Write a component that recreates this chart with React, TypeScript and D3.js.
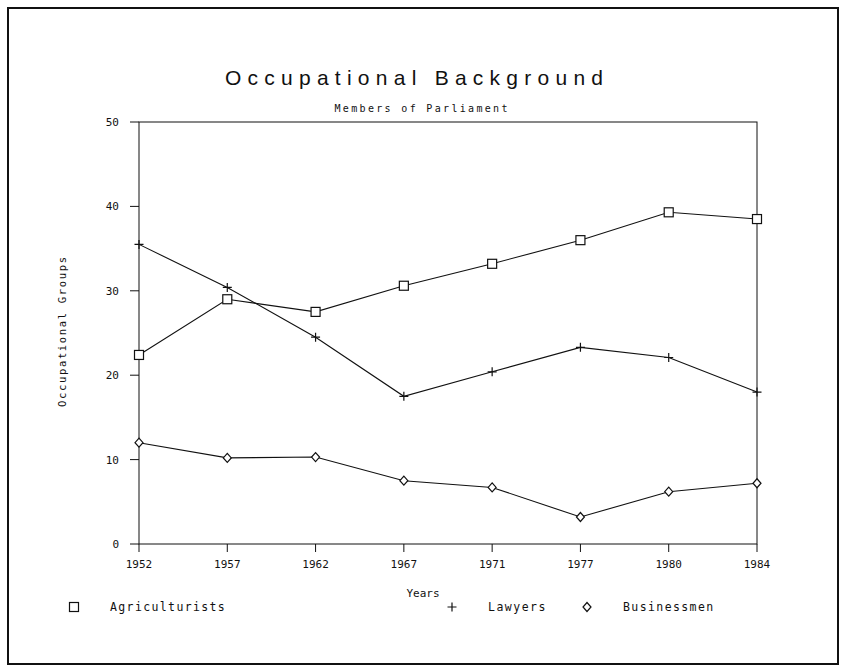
import * as d3 from "d3";

const years = ["1952", "1957", "1962", "1967", "1971", "1977", "1980", "1984"];
const agriculturists = [22.4, 29.0, 27.5, 30.6, 33.2, 36.0, 39.3, 38.5];
const lawyers = [35.5, 30.4, 24.5, 17.5, 20.4, 23.3, 22.1, 18.0];
const businessmen = [12.0, 10.2, 10.3, 7.5, 6.7, 3.2, 6.2, 7.2];
const yTicks = [0, 10, 20, 30, 40, 50];

const W = 841;
const H = 672;
const left = 139;
const right = 757;
const top = 122;
const bottom = 544;

const mono = "'DejaVu Sans Mono', monospace";
const ink = "#111";

function Marker({ kind, x, y }: { kind: string; x: number; y: number }) {
  if (kind === "square")
    return <rect x={x - 4.5} y={y - 4.5} width={9} height={9} fill="#fff" stroke={ink} strokeWidth={1.2} />;
  if (kind === "plus")
    return (
      <path d={`M${x - 4.5},${y}H${x + 4.5}M${x},${y - 4.5}V${y + 4.5}`} stroke={ink} strokeWidth={1.2} />
    );
  return (
    <path
      d={`M${x},${y - 4.5}L${x + 4},${y}L${x},${y + 4.5}L${x - 4},${y}Z`}
      fill="#fff"
      stroke={ink}
      strokeWidth={1.2}
    />
  );
}

export default function App() {
  const x = d3.scalePoint<string>().domain(years).range([left, right]);
  const y = d3.scaleLinear().domain([0, 50]).range([bottom, top]);

  const series = [
    { name: "Agriculturists", values: agriculturists, kind: "square", lx: 74 },
    { name: "Lawyers", values: lawyers, kind: "plus", lx: 452 },
    { name: "Businessmen", values: businessmen, kind: "diamond", lx: 587 },
  ];

  const line = d3
    .line<number>()
    .x((_, i) => x(years[i])!)
    .y((d) => y(d));

  return (
    <svg width={W} height={H} style={{ position: "absolute", left: 0, top: 0, background: "#fff" }}>
      <rect x={8} y={8} width={830} height={656} fill="none" stroke={ink} strokeWidth={2} />

      <text x={414} y={85} fontFamily="'Liberation Sans', Arial, sans-serif" fontSize={21} textLength={378}
        lengthAdjust="spacing" textAnchor="middle" fill={ink}>
        Occupational Background
      </text>
      <text x={421} y={112} fontFamily={mono} fontSize={10} textLength={173} lengthAdjust="spacing"
        textAnchor="middle" fill={ink}>
        Members of Parliament
      </text>

      <rect x={left} y={top} width={right - left} height={bottom - top} fill="none" stroke={ink} strokeWidth={1} />

      {yTicks.map((t) => (
        <g key={t}>
          <line x1={left - 9} x2={left} y1={y(t)} y2={y(t)} stroke={ink} />
          <text x={left - 20} y={y(t) + 4} fontFamily={mono} fontSize={11} textAnchor="end" fill={ink}>
            {t}
          </text>
        </g>
      ))}
      {years.map((yr) => (
        <g key={yr}>
          <line x1={x(yr)} x2={x(yr)} y1={bottom} y2={bottom + 8} stroke={ink} />
          <text x={x(yr)} y={bottom + 24} fontFamily={mono} fontSize={11} textAnchor="middle" fill={ink}>
            {yr}
          </text>
        </g>
      ))}

      <text x={423} y={597} fontFamily={mono} fontSize={11} textAnchor="middle" fill={ink}>
        Years
      </text>
      <text
        transform="translate(66,332) rotate(-90)"
        fontFamily={mono}
        fontSize={10.5}
        textLength={150}
        lengthAdjust="spacing"
        textAnchor="middle"
        fill={ink}
      >
        Occupational Groups
      </text>

      {series.map((s) => (
        <g key={s.name}>
          <path d={line(s.values)!} fill="none" stroke={ink} strokeWidth={1.1} />
          {s.values.map((v, i) => (
            <Marker key={i} kind={s.kind} x={x(years[i])!} y={y(v)} />
          ))}
          <Marker kind={s.kind} x={s.lx} y={607} />
          <text x={s.lx + 36} y={611} fontFamily={mono} fontSize={11.5} textLength={s.name.length * 8.2}
            lengthAdjust="spacing" fill={ink}>
            {s.name}
          </text>
        </g>
      ))}
    </svg>
  );
}
